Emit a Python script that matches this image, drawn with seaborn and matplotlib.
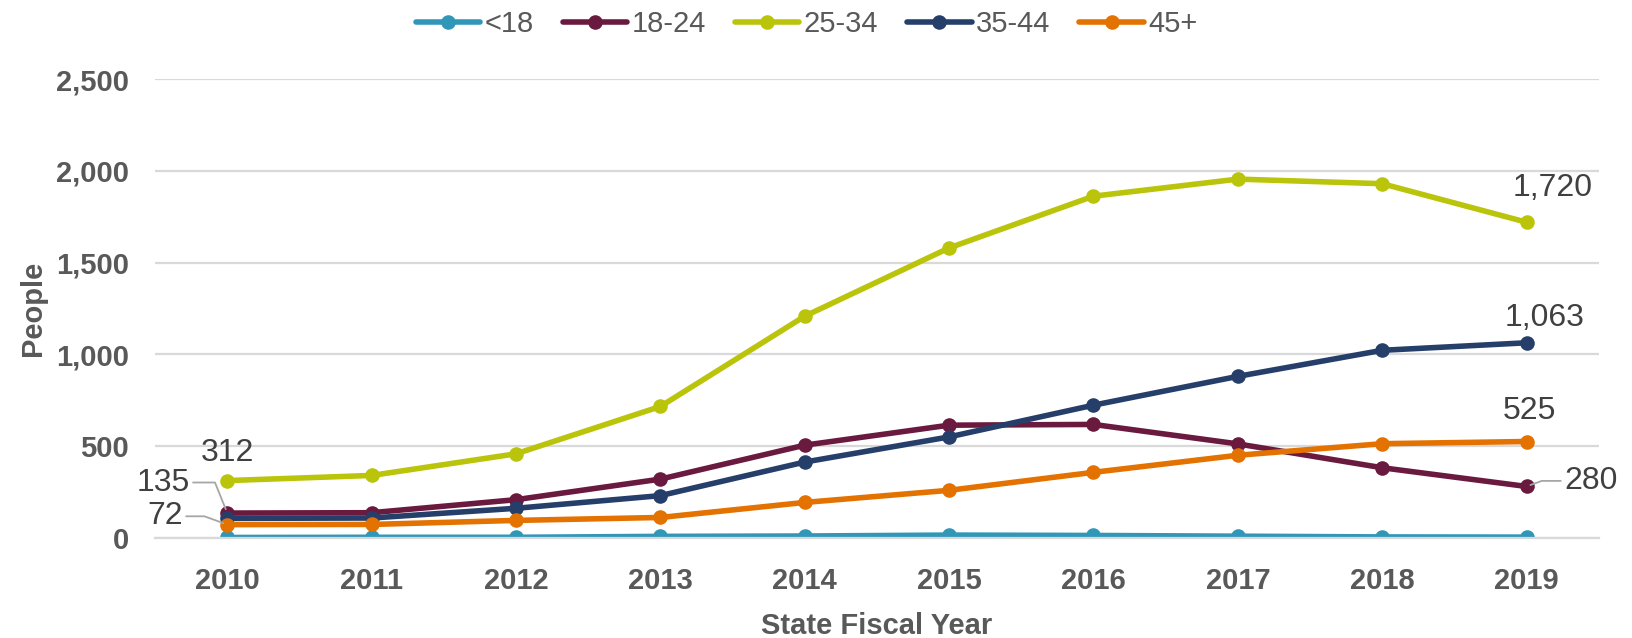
import pandas as pd
import numpy as np
import seaborn as sns
import matplotlib.pyplot as plt

years = ['2010', '2011', '2012', '2013', '2014', '2015', '2016', '2017', '2018', '2019']
groups = ['<18', '18-24', '25-34', '35-44', '45+']
under_18 = [2, 3, 3, 8, 10, 15, 13, 9, 5, 4]
age_18_24 = [135, 137, 208, 320, 505, 614, 618, 512, 382, 280]
age_25_34 = [312, 340, 458, 716, 1208, 1580, 1862, 1955, 1930, 1720]
age_35_44 = [106, 108, 161, 230, 413, 550, 723, 880, 1022, 1063]
age_45_up = [72, 73, 95, 111, 193, 259, 357, 450, 513, 525]
colors = ['#3197b8', '#6b1a3f', '#bac40a', '#263f6a', '#e47200']

series = [under_18, age_18_24, age_25_34, age_35_44, age_45_up]
df = pd.DataFrame({
    'x': np.tile(np.arange(len(years)), len(groups)),
    'People': np.concatenate(series),
    'group': np.repeat(groups, len(years)),
})

sns.set_style('white')
plt.rcParams['font.family'] = ['Liberation Sans', 'DejaVu Sans']

fig = plt.figure(figsize=(16.33, 6.38), dpi=100)
ax = fig.add_axes([0.095, 0.157, 0.884, 0.719])

sns.lineplot(data=df, x='x', y='People', hue='group', hue_order=groups,
             palette=colors, marker='o', markersize=10.5, markeredgewidth=0,
             linewidth=4, ax=ax, legend=True)

# axes styling
ax.set_xlim(-0.5, len(years) - 0.5)
ax.set_ylim(0, 2500)
ax.set_yticks([0, 500, 1000, 1500, 2000, 2500])
ax.set_yticklabels(['{:,}'.format(v) for v in [0, 500, 1000, 1500, 2000, 2500]])
ax.set_xticks(range(len(years)))
ax.set_xticklabels(years)
ax.set_xticks(np.arange(-0.5, len(years)), minor=True)
ax.tick_params(axis='x', which='major', length=0, pad=21)
ax.tick_params(axis='x', which='minor', length=10, width=1.5, color='#d9d9d9')
ax.tick_params(axis='y', length=0, pad=19)
for lab in ax.get_xticklabels() + ax.get_yticklabels():
    lab.set_fontsize(21)
    lab.set_fontweight('bold')
    lab.set_color('#595959')
ax.grid(axis='y', color='#d9d9d9', linewidth=1.6)
ax.set_axisbelow(True)
for s in ['left', 'right', 'top']:
    ax.spines[s].set_visible(False)
ax.spines['bottom'].set_color('#d9d9d9')
ax.spines['bottom'].set_linewidth(1.6)

ax.set_xlabel('State Fiscal Year', fontsize=21, fontweight='bold', color='#595959', labelpad=12)
ax.set_ylabel('People', fontsize=21, fontweight='bold', color='#595959')
ax.yaxis.set_label_coords(-0.075, 0.5)

# legend on top
handles, labels = ax.get_legend_handles_labels()
ax.get_legend().remove()
fig.legend(handles, labels, loc='upper center', bbox_to_anchor=(0.494, 1.025), ncol=5,
           frameon=False, fontsize=21, handlelength=2.2, columnspacing=1.0,
           handletextpad=0.15, labelcolor='#595959')

# data labels
lab_kw = dict(textcoords='offset points', fontsize=23, color='#404040', va='center')
lead = dict(arrowstyle='-', color='#a6a6a6', lw=1.3, shrinkA=0, shrinkB=3)
ax.annotate('{:,}'.format(age_25_34[0]), (0, age_25_34[0]), xytext=(0, 20), ha='center', **lab_kw)
ax.annotate('{:,}'.format(age_18_24[0]), (0, age_18_24[0]), xytext=(-27, 22), ha='right',
            arrowprops=dict(connectionstyle='angle,angleA=0,angleB=112,rad=0',
                            relpos=(1, 0.5), **lead), **lab_kw)
ax.annotate('{:,}'.format(age_45_up[0]), (0, age_45_up[0]), xytext=(-32, 6), ha='right',
            arrowprops=dict(connectionstyle='angle,angleA=0,angleB=160,rad=0',
                            relpos=(1, 0.5), **lead), **lab_kw)
ax.annotate('{:,}'.format(age_25_34[-1]), (9, age_25_34[-1]), xytext=(19, 25), ha='center', **lab_kw)
ax.annotate('{:,}'.format(age_35_44[-1]), (9, age_35_44[-1]), xytext=(13, 18), ha='center', **lab_kw)
ax.annotate('{:,}'.format(age_45_up[-1]), (9, age_45_up[-1]), xytext=(2, 22), ha='center', **lab_kw)
ax.annotate('{:,}'.format(age_18_24[-1]), (9, age_18_24[-1]), xytext=(27, 4), ha='left',
            arrowprops=dict(connectionstyle='angle,angleA=0,angleB=20,rad=0',
                            relpos=(0, 0.5), **lead), **lab_kw)

fig.savefig('out.png', dpi=100)
